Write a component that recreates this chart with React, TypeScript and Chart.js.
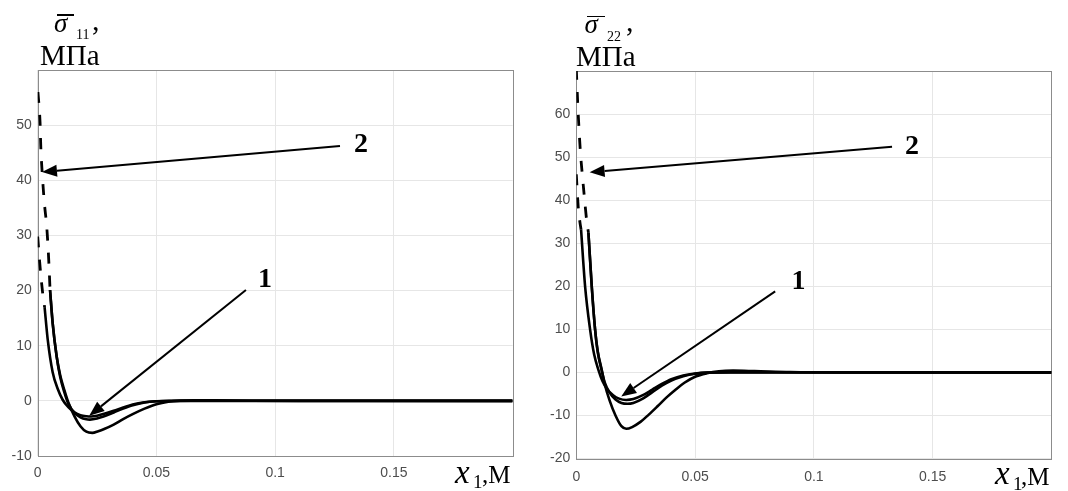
import React, { useEffect, useRef } from "react";
import { Chart, registerables } from "chart.js";

Chart.register(...registerables);

// ---------- tick labels ----------
const xTicks = [0, 0.05, 0.1, 0.15];
const s11Ticks = [-10, 0, 10, 20, 30, 40, 50];
const s22Ticks = [-20, -10, 0, 10, 20, 30, 40, 50, 60];

// ---------- sigma 11 (left) ----------
const s11DashA_x = [0.0001, 0.001, 0.0013, 0.0021, 0.0028, 0.0038, 0.0045, 0.0049, 0.0052];
const s11DashA_y = [56, 50.4, 46.1, 40, 35.9, 31.6, 26.8, 23.2, 20.1];
const s11DashB_x = [0, 0.001, 0.0021, 0.0029];
const s11DashB_y = [29.8, 24.3, 19.5, 17.0];
const s11Line1_x = [0.0029, 0.0042, 0.0063, 0.0085, 0.0105, 0.013, 0.0155, 0.018, 0.0205, 0.0225, 0.025, 0.028, 0.032, 0.036, 0.04, 0.045, 0.05, 0.056, 0.065, 0.2];
const s11Line1_y = [17.0, 11.2, 5.2, 2.1, 0.2, -1.2, -2.1, -2.6, -2.8, -2.85, -2.7, -2.35, -1.8, -1.2, -0.65, -0.25, -0.08, -0.02, 0, 0];
const s11Line2_x = [0.0052, 0.0063, 0.008, 0.0095, 0.0112, 0.013, 0.0155, 0.018, 0.0205, 0.023, 0.0255, 0.028, 0.032, 0.036, 0.04, 0.045, 0.05, 0.055, 0.06, 0.066, 0.075, 0.09, 0.11, 0.2];
const s11Line2_y = [20.1, 14.1, 8, 4.6, 2, -0.4, -2.8, -4.6, -5.6, -5.8, -5.5, -5.1, -4.3, -3.3, -2.4, -1.4, -0.6, -0.15, 0.05, 0.12, 0.1, 0.03, 0, 0];
const s11Line3_x = [0.0052, 0.0063, 0.008, 0.0095, 0.0112, 0.013, 0.0155, 0.018, 0.0205, 0.022, 0.025, 0.028, 0.032, 0.036, 0.04, 0.045, 0.05, 0.056, 0.065, 0.2];
const s11Line3_y = [20.1, 14.1, 8, 4.3, 1.6, -0.6, -2.2, -3.0, -3.35, -3.4, -3.2, -2.8, -2.1, -1.4, -0.8, -0.3, -0.08, 0, 0.02, 0];

// ---------- sigma 22 (right) ----------
const s22DashA_x = [0, 0.0006, 0.0011, 0.0017, 0.0025, 0.0034, 0.0044, 0.0051];
const s22DashA_y = [70.5, 62.4, 57, 51.4, 46.1, 40.7, 35.1, 32.5];
const s22DashB_x = [0, 0.0008, 0.0015, 0.002];
const s22DashB_y = [46, 38.5, 35, 33.2];
const s22Line1_x = [0.002, 0.0037, 0.0058, 0.0075, 0.0093, 0.011, 0.013, 0.0155, 0.018, 0.021, 0.024, 0.028, 0.032, 0.036, 0.04, 0.045, 0.05, 0.055, 0.065, 0.2];
const s22Line1_y = [33.2, 20, 10, 4.2, 0.6, -2, -3.9, -5.3, -6.1, -6.4, -6.2, -5.3, -4.0, -2.7, -1.6, -0.7, -0.25, -0.05, 0, 0];
const s22Line2_x = [0.0051, 0.0065, 0.0079, 0.009, 0.0107, 0.012, 0.014, 0.0165, 0.019, 0.021, 0.0235, 0.027, 0.0305, 0.0343, 0.038, 0.042, 0.0455, 0.05, 0.055, 0.06, 0.066, 0.075, 0.09, 0.11, 0.2];
const s22Line2_y = [32.5, 20, 10, 5, 0.6, -2.8, -6.5, -10, -12.5, -13.1, -12.7, -11.5, -9.8, -7.8, -5.8, -3.9, -2.4, -1.0, -0.2, 0.25, 0.4, 0.3, 0.08, 0, 0];
const s22Line3_x = [0.0051, 0.0065, 0.0079, 0.009, 0.0107, 0.012, 0.014, 0.0165, 0.019, 0.0215, 0.024, 0.028, 0.032, 0.036, 0.04, 0.045, 0.05, 0.055, 0.065, 0.2];
const s22Line3_y = [32.5, 20, 10, 4.8, 0.4, -2.4, -4.7, -6.3, -7.1, -7.3, -7.1, -6.1, -4.6, -3.1, -1.9, -0.9, -0.3, -0.05, 0.03, 0];

// ---------- annotation arrows (data coordinates: tail -> tip) ----------
const s11Arrows = [
  { fromX: 0.1273, fromY: 46.2, toX: 0.0018, toY: 41.5 },
  { fromX: 0.0877, fromY: 20.1, toX: 0.0217, toY: -2.7 },
];
const s22Arrows = [
  { fromX: 0.1329, fromY: 52.4, toX: 0.0056, toY: 46.5 },
  { fromX: 0.0837, fromY: 18.8, toX: 0.0189, toY: -5.6 },
];

const toPts = (xs: number[], ys: number[]) => xs.map((x, i) => ({ x, y: ys[i] }));

const solid = (xs: number[], ys: number[]) => ({
  data: toPts(xs, ys),
  borderColor: "#000",
  borderWidth: 2.6,
  pointRadius: 0,
  fill: false,
  cubicInterpolationMode: "monotone",
});
const dashed = (xs: number[], ys: number[]) => ({
  ...solid(xs, ys),
  borderDash: [11, 12],
  borderWidth: 2.8,
});

const annoPlugin = {
  id: "anno",
  beforeDatasetsDraw(chart: any) {
    const { ctx, chartArea: a } = chart;
    ctx.save();
    ctx.strokeStyle = "#8c8c8c";
    ctx.lineWidth = 1;
    ctx.strokeRect(Math.round(a.left) + 0.5, Math.round(a.top) + 0.5, Math.round(a.right - a.left), Math.round(a.bottom - a.top));
    ctx.restore();
  },
  afterDatasetsDraw(chart: any, _args: any, opts: any) {
    const { ctx, scales } = chart;
    ctx.save();
    ctx.strokeStyle = "#000";
    ctx.fillStyle = "#000";
    ctx.lineWidth = 2;
    for (const ar of opts.arrows || []) {
      const x1 = scales.x.getPixelForValue(ar.fromX);
      const y1 = scales.y.getPixelForValue(ar.fromY);
      const x2 = scales.x.getPixelForValue(ar.toX);
      const y2 = scales.y.getPixelForValue(ar.toY);
      const ang = Math.atan2(y2 - y1, x2 - x1);
      const hl = 15, hw = 6;
      const bx = x2 - hl * Math.cos(ang);
      const by = y2 - hl * Math.sin(ang);
      ctx.beginPath();
      ctx.moveTo(x1, y1);
      ctx.lineTo(bx, by);
      ctx.stroke();
      ctx.beginPath();
      ctx.moveTo(x2, y2);
      ctx.lineTo(bx + hw * Math.sin(ang), by - hw * Math.cos(ang));
      ctx.lineTo(bx - hw * Math.sin(ang), by + hw * Math.cos(ang));
      ctx.closePath();
      ctx.fill();
    }
    ctx.restore();
  },
};

const tickFont = { family: "'Liberation Sans', Arial, sans-serif", size: 14 };

function makeConfig(datasets: any[], yMin: number, yMax: number, yTicks: number[], pad: any, yWidth: number, xHeight: number, xPad: number, arrows: any[]) {
  return {
    type: "line",
    data: { datasets },
    options: {
      animation: false,
      responsive: false,
      maintainAspectRatio: false,
      layout: { padding: pad },
      plugins: { legend: { display: false }, tooltip: { enabled: false }, anno: { arrows } },
      scales: {
        x: {
          type: "linear",
          min: 0,
          max: 0.2,
          afterBuildTicks: (s: any) => { s.ticks = xTicks.map((v) => ({ value: v })); },
          afterFit: (s: any) => { s.height = xHeight; },
          grid: { color: "#e6e6e6", lineWidth: 1, drawTicks: false },
          border: { display: false },
          ticks: { font: tickFont, color: "#4d4d4d", padding: xPad, maxRotation: 0, callback: (v: any) => String(Number(Number(v).toFixed(3))) },
        },
        y: {
          type: "linear",
          min: yMin,
          max: yMax,
          afterBuildTicks: (s: any) => { s.ticks = yTicks.map((v) => ({ value: v })); },
          afterFit: (s: any) => { s.width = yWidth; },
          grid: { color: "#e6e6e6", lineWidth: 1, drawTicks: false },
          border: { display: false },
          ticks: { font: tickFont, color: "#4d4d4d", padding: 6, callback: (v: any) => String(v) },
        },
      },
    },
    plugins: [annoPlugin],
  };
}

function ChartCanvas({ left, config }: { left: number; config: any }) {
  const ref = useRef<HTMLCanvasElement>(null);
  useEffect(() => {
    const ch = new Chart(ref.current as HTMLCanvasElement, config);
    return () => ch.destroy();
  }, []);
  return <canvas ref={ref} width={534} height={491} style={{ position: "absolute", left, top: 0, width: 534, height: 491 }} />;
}

const SERIF = "'Liberation Serif', 'Times New Roman', serif";
const ASC = 0.8375;

function T({ x, base, size, children, italic, bold, center }: any) {
  const style: any = {
    position: "absolute",
    top: base - ASC * size,
    fontFamily: SERIF,
    fontSize: size,
    lineHeight: "1",
    whiteSpace: "nowrap",
    fontStyle: italic ? "italic" : "normal",
    fontWeight: bold ? "bold" : "normal",
    color: "#000",
  };
  if (center) {
    style.left = x - 30;
    style.width = 60;
    style.textAlign = "center";
  } else {
    style.left = x;
  }
  return <div style={style}>{children}</div>;
}

function Bar({ x, y, w }: any) {
  return <div style={{ position: "absolute", left: x, top: y, width: w, height: 1.5, background: "#000" }} />;
}

export default function App() {
  const leftCfg = makeConfig(
    [dashed(s11DashA_x, s11DashA_y), dashed(s11DashB_x, s11DashB_y), solid(s11Line1_x, s11Line1_y), solid(s11Line2_x, s11Line2_y), solid(s11Line3_x, s11Line3_y)],
    -10, 60, s11Ticks, { left: 0, top: 70, right: 21.4, bottom: 0 }, 37.7, 35, 9, s11Arrows
  );
  const rightCfg = makeConfig(
    [dashed(s22DashA_x, s22DashA_y), dashed(s22DashB_x, s22DashB_y), solid(s22Line1_x, s22Line1_y), solid(s22Line2_x, s22Line2_y), solid(s22Line3_x, s22Line3_y)],
    -20, 70, s22Ticks, { left: 0, top: 71, right: 16.5, bottom: 0 }, 42.3, 32.5, 10.5, s22Arrows
  );
  return (
    <div style={{ position: "absolute", left: 0, top: 0, width: 1068, height: 491, overflow: "hidden", background: "#fff" }}>
      <ChartCanvas left={0} config={leftCfg} />
      <ChartCanvas left={534} config={rightCfg} />

      {/* left titles */}
      <Bar x={57} y={14} w={17} />
      <T x={54} base={32.5} size={27} italic>σ</T>
      <T x={76} base={39.5} size={14}>11</T>
      <T x={92} base={30} size={30}>,</T>
      <T x={40} base={65} size={29}>МПа</T>
      <T x={455} base={483.3} size={33} italic>x</T>
      <T x={473} base={488} size={19}>1</T>
      <T x={482} base={483.3} size={25}>,М</T>
      <T x={361} base={152} size={28} bold center>2</T>
      <T x={265} base={287} size={28} bold center>1</T>

      {/* right titles */}
      <Bar x={587} y={15.5} w={18} />
      <T x={584.5} base={34} size={27} italic>σ</T>
      <T x={607} base={41.7} size={14}>22</T>
      <T x={626} base={31} size={30}>,</T>
      <T x={576} base={66.7} size={29}>МПа</T>
      <T x={995} base={485} size={33} italic>x</T>
      <T x={1013} base={490} size={19}>1</T>
      <T x={1021} base={485} size={25}>,М</T>
      <T x={912} base={154} size={28} bold center>2</T>
      <T x={798.5} base={289} size={28} bold center>1</T>
    </div>
  );
}
